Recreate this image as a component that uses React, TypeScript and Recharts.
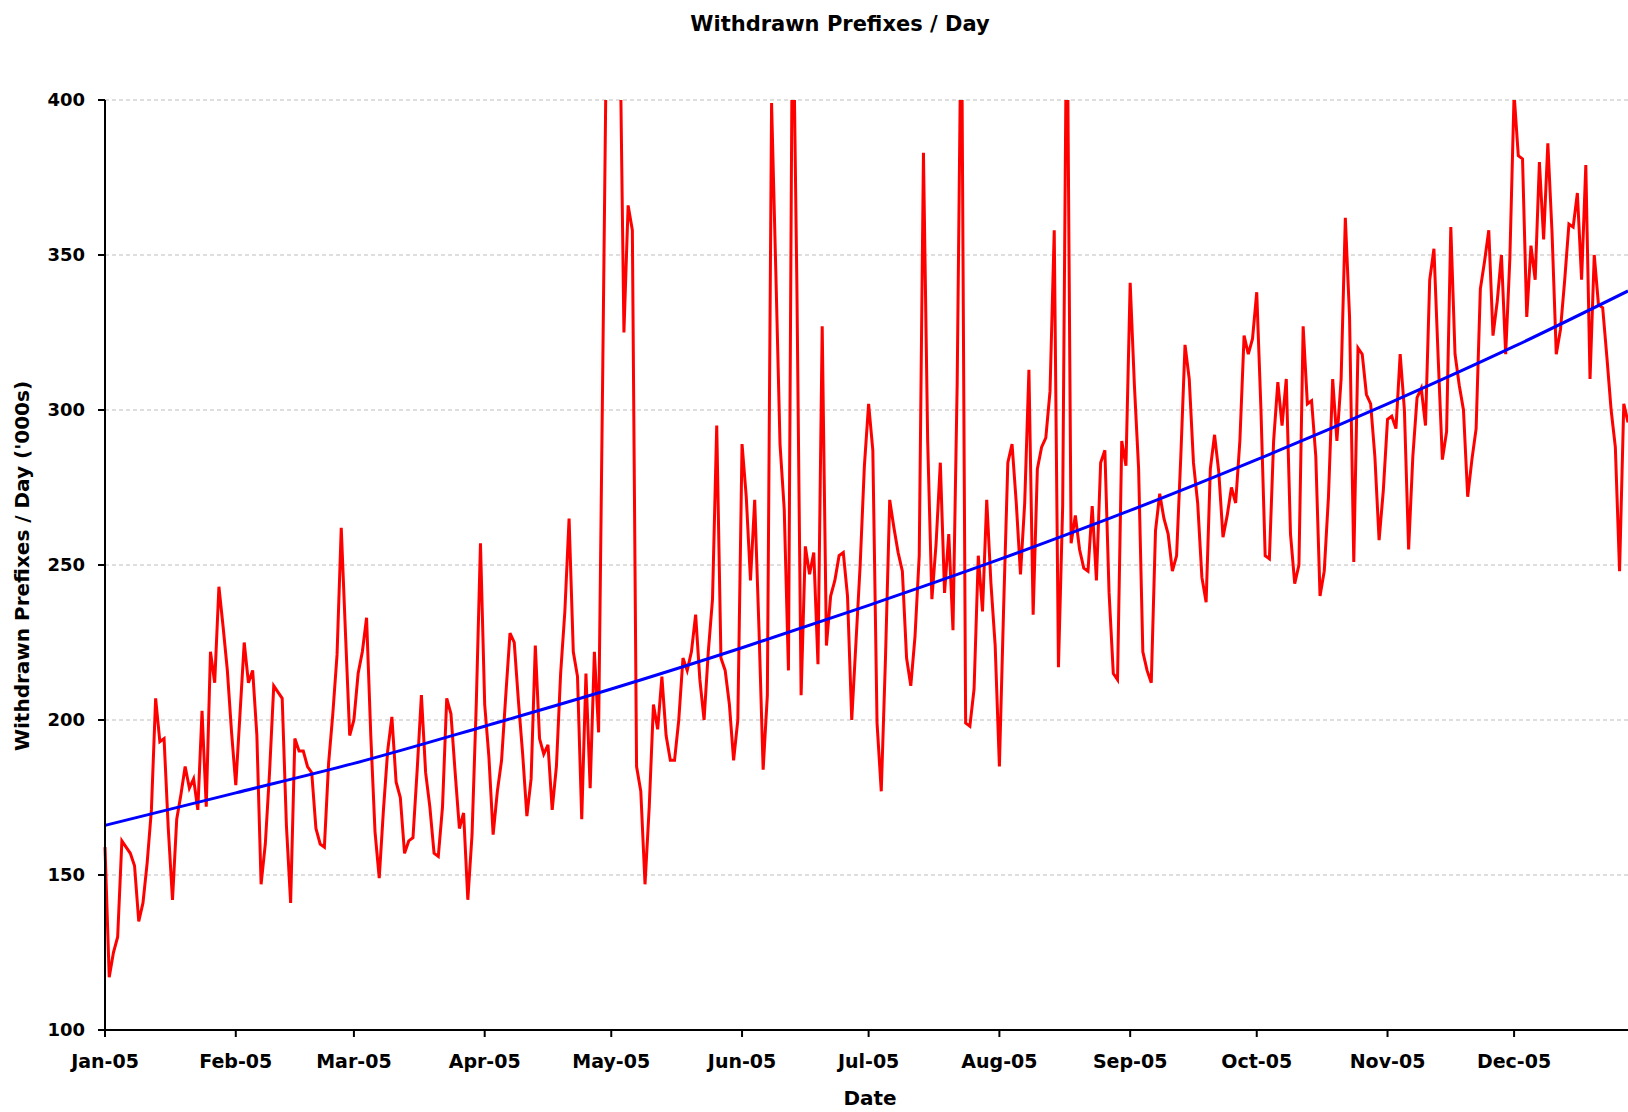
import { LineChart, Line, XAxis, YAxis, CartesianGrid } from 'recharts'

const MONTH_LABELS = ['Jan-05', 'Feb-05', 'Mar-05', 'Apr-05', 'May-05', 'Jun-05', 'Jul-05', 'Aug-05', 'Sep-05', 'Oct-05', 'Nov-05', 'Dec-05']
const MONTH_START_DAY = [0, 31, 59, 90, 120, 151, 181, 212, 243, 273, 304, 334]
const Y_TICKS = [100, 150, 200, 250, 300, 350, 400]

// daily withdrawn prefixes ('000s), one array per month
const JAN = [159, 117, 125, 130, 161, 159, 157, 153, 135, 141, 154, 171, 207, 193, 194, 165, 142, 168, 176, 185, 178, 181, 171, 203, 172, 222, 212, 243, 230, 216, 196]
const FEB = [179, 202, 225, 212, 216, 195, 147, 160, 183, 211, 209, 207, 166, 141, 194, 190, 190, 185, 183, 165, 160, 159, 186, 202, 221, 262, 228, 195]
const MAR = [200, 215, 222, 233, 195, 164, 149, 171, 190, 201, 180, 175, 157, 161, 162, 184, 208, 183, 172, 157, 156, 172, 207, 202, 183, 165, 170, 142, 163, 205, 257]
const APR = [205, 188, 163, 177, 187, 208, 228, 225, 206, 189, 169, 181, 224, 194, 189, 192, 171, 185, 215, 235, 265, 222, 214, 168, 215, 178, 222, 196, 315, 440]
const MAY = [480, 470, 430, 325, 366, 358, 185, 177, 147, 172, 205, 197, 214, 195, 187, 187, 200, 220, 216, 222, 234, 213, 200, 222, 239, 295, 220, 216, 205, 187, 200]
const JUN = [289, 272, 245, 271, 230, 184, 208, 399, 345, 289, 268, 216, 445, 340, 208, 256, 247, 254, 218, 327, 224, 240, 245, 253, 254, 240, 200, 225, 250, 282]
const JUL = [302, 287, 199, 177, 220, 271, 262, 254, 248, 220, 211, 227, 253, 383, 290, 239, 257, 283, 241, 260, 229, 309, 440, 199, 198, 210, 253, 235, 271, 244, 224]
const AUG = [185, 236, 283, 289, 270, 247, 270, 313, 234, 281, 288, 291, 306, 358, 217, 269, 445, 257, 266, 255, 249, 248, 269, 245, 283, 287, 241, 215, 213, 290, 282]
const SEP = [341, 308, 281, 222, 216, 212, 261, 273, 265, 260, 248, 253, 285, 321, 310, 283, 270, 246, 238, 281, 292, 280, 259, 266, 275, 270, 290, 324, 318, 323]
const OCT = [338, 300, 253, 252, 290, 309, 295, 310, 260, 244, 250, 327, 302, 303, 285, 240, 248, 272, 310, 290, 310, 362, 330, 251, 320, 318, 305, 302, 285, 258, 274]
const NOV = [297, 298, 294, 318, 300, 255, 285, 304, 307, 295, 342, 352, 317, 284, 293, 359, 318, 308, 300, 272, 284, 294, 339, 348, 358, 324, 335, 350, 318, 349]
const DEC = [402, 382, 381, 330, 353, 342, 380, 355, 386, 357, 318, 326, 342, 360, 359, 370, 342, 379, 310, 350, 334, 333, 317, 300, 288, 248, 302, 296]

// trend line read at month starts (and the last day)
const TREND_DAY = [0, 31, 59, 90, 120, 151, 181, 212, 243, 273, 304, 334, 361]
const TREND_VALUE = [166, 176.5, 186, 198, 210, 223.3, 237, 251.8, 267.6, 284, 302, 320.5, 338.4]

const MONTHS = [JAN, FEB, MAR, APR, MAY, JUN, JUL, AUG, SEP, OCT, NOV, DEC]

const dailyData = MONTHS.flatMap((vals, m) =>
  vals.map((v, i) => ({ day: MONTH_START_DAY[m] + i, value: v })),
)
const trendData = TREND_DAY.map((d, i) => ({ day: d, value: TREND_VALUE[i] }))

const FONT = "'DejaVu Sans', Verdana, sans-serif"
const tickStyle = { fill: '#000', fontSize: 19, fontWeight: 'bold', fontFamily: FONT }

export default function App() {
  return (
    <div style={{ position: 'absolute', left: 0, top: 0, width: 1628, height: 1112, background: '#fff', overflow: 'hidden' }}>
      <LineChart width={1628} height={1112} margin={{ top: 100, right: 0, bottom: 22, left: 0 }}>
        <CartesianGrid vertical={false} stroke="#bdbdbd" strokeDasharray="4 3" />
        <XAxis
          dataKey="day"
          type="number"
          domain={[0, 361]}
          ticks={MONTH_START_DAY}
          interval={0}
          tickFormatter={(d: number) => MONTH_LABELS[MONTH_START_DAY.indexOf(d)] ?? ''}
          tick={tickStyle}
          tickSize={7}
          tickMargin={18}
          height={60}
          axisLine={{ stroke: '#000', strokeWidth: 2 }}
          tickLine={{ stroke: '#000', strokeWidth: 2 }}
        />
        <YAxis
          type="number"
          domain={[100, 400]}
          allowDataOverflow
          ticks={Y_TICKS}
          interval={0}
          tick={{ ...tickStyle, fontSize: 18 }}
          tickSize={7}
          tickMargin={13}
          width={105}
          axisLine={{ stroke: '#000', strokeWidth: 2 }}
          tickLine={{ stroke: '#000', strokeWidth: 2 }}
        />
        <Line
          data={dailyData}
          dataKey="value"
          type="linear"
          stroke="#ff0000"
          strokeWidth={3}
          dot={false}
          activeDot={false}
          isAnimationActive={false}
        />
        <Line
          data={trendData}
          dataKey="value"
          type="monotone"
          stroke="#0000ff"
          strokeWidth={3}
          dot={false}
          activeDot={false}
          isAnimationActive={false}
        />
      </LineChart>
      <svg width={1628} height={1112} style={{ position: 'absolute', left: 0, top: 0, pointerEvents: 'none' }}>
        <text x={840} y={31} textAnchor="middle" fontFamily={FONT} fontWeight="bold" fontSize={21} fill="#000">
          Withdrawn Prefixes / Day
        </text>
        <text
          transform="translate(29,566) rotate(-90)"
          textAnchor="middle"
          fontFamily={FONT}
          fontWeight="bold"
          fontSize={20}
          fill="#000"
        >
          Withdrawn Prefixes / Day ('000s)
        </text>
        <text x={870} y={1105} textAnchor="middle" fontFamily={FONT} fontWeight="bold" fontSize={20} fill="#000">
          Date
        </text>
      </svg>
    </div>
  )
}
